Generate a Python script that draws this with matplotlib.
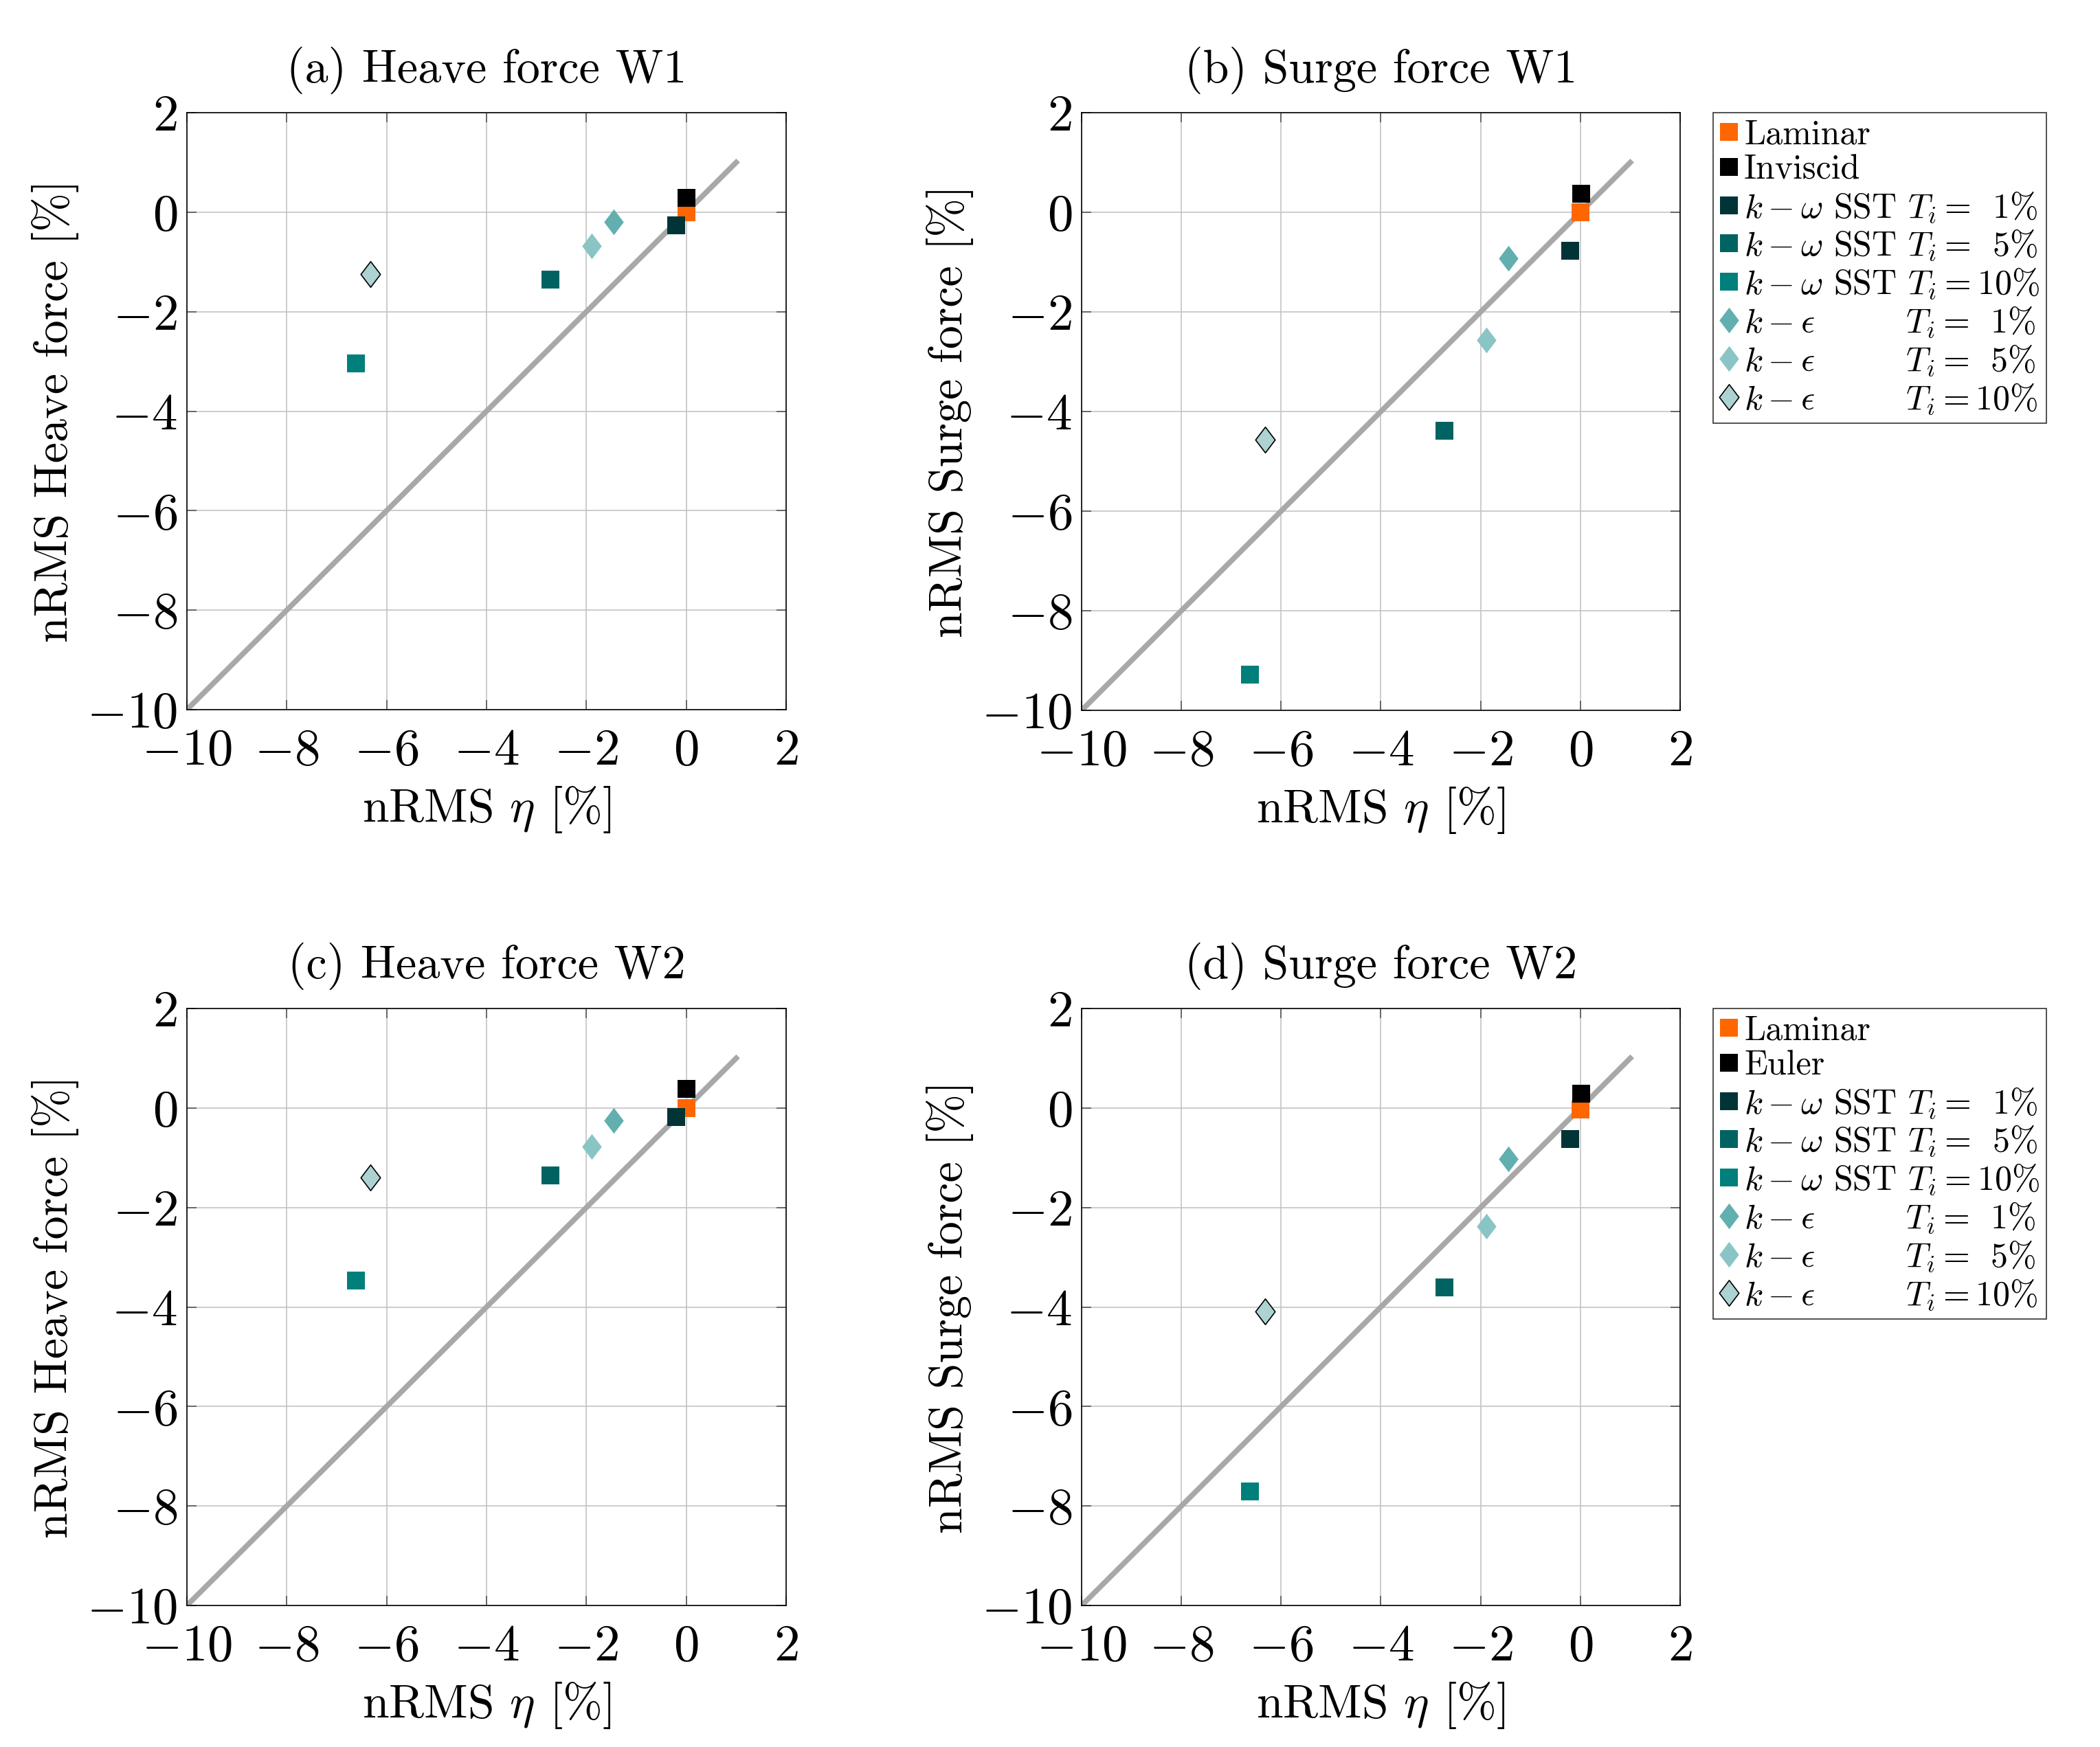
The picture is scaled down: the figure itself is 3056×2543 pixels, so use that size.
import numpy as np
import matplotlib
matplotlib.use('Agg')
import matplotlib.pyplot as plt
from matplotlib.path import Path

plt.rcParams['font.family'] = 'cmr10'
plt.rcParams['mathtext.fontset'] = 'cm'
plt.rcParams['axes.formatter.use_mathtext'] = True

# nRMS eta, same for every panel
# order: Laminar, Inviscid/Euler, kw 1%, kw 5%, kw 10%, ke 1%, ke 5%, ke 10%
eta = [0.0, 0.01, -0.2, -2.72, -6.62, -1.45, -1.89, -6.32]

heave_w1 = [0.0, 0.29, -0.26, -1.35, -3.04, -0.20, -0.68, -1.25]
surge_w1 = [0.0, 0.37, -0.77, -4.39, -9.28, -0.93, -2.56, -4.56]
heave_w2 = [0.0, 0.39, -0.18, -1.36, -3.47, -0.25, -0.77, -1.40]
surge_w2 = [-0.03, 0.29, -0.63, -3.60, -7.71, -1.02, -2.38, -4.09]

titles = ['(a) Heave force W1', '(b) Surge force W1',
          '(c) Heave force W2', '(d) Surge force W2']
ylabels = ['nRMS Heave force [%]', 'nRMS Surge force [%]',
           'nRMS Heave force [%]', 'nRMS Surge force [%]']

pad = r'\enspace'
labels_w1 = ['Laminar', 'Inviscid',
             r'$k-\omega$ SST $T_i=' + pad + r'1\%$',
             r'$k-\omega$ SST $T_i=' + pad + r'5\%$',
             r'$k-\omega$ SST $T_i=10\%$',
             r'$k-\epsilon$' + ' ' * 8 + r'$T_i=' + pad + r'1\%$',
             r'$k-\epsilon$' + ' ' * 8 + r'$T_i=' + pad + r'5\%$',
             r'$k-\epsilon$' + ' ' * 8 + r'$T_i=10\%$']
labels_w2 = ['Laminar', 'Euler'] + labels_w1[2:]

colors = ['#ff6600', '#000000', '#013436', '#006361', '#017f7b',
          '#62afb0', '#8ac5c5', '#add2d2']
edges = ['none'] * 7 + ['#000000']

diamond = Path([(0, 1), (0.76, 0), (0, -1), (-0.76, 0), (0, 1)],
               [Path.MOVETO, Path.LINETO, Path.LINETO, Path.LINETO, Path.CLOSEPOLY])
markers = ['s'] * 5 + [diamond] * 3
sizes = [9.5] * 5 + [13.5] * 3

W, H = 3056, 2543
fig = plt.figure(figsize=(W / 200, H / 200), dpi=200)

boxes = [(272, 164, 1144, 1033), (1574, 164, 2445, 1034),
         (272, 1468, 1144, 2337), (1574, 1468, 2445, 2337)]
data = [heave_w1, surge_w1, heave_w2, surge_w2]

for k in range(4):
    l, t, r, b = boxes[k]
    ax = fig.add_axes([l / W, 1 - b / H, (r - l) / W, (b - t) / H])
    ax.plot([-10, 1], [-10, 1], color='#a8a8a8', lw=2.8, zorder=2)
    handles = []
    for i in range(8):
        h, = ax.plot(eta[i], data[k][i], ls='none', marker=markers[i], ms=sizes[i],
                     mfc=colors[i], mec=edges[i] if edges[i] != 'none' else colors[i],
                     mew=0.6 if i == 7 else 0, zorder=3 + i)
        handles.append(h)
    ax.set_xlim(-10, 2)
    ax.set_ylim(-10, 2)
    ax.set_xticks(np.arange(-10, 3, 2))
    ax.set_yticks(np.arange(-10, 3, 2))
    ax.grid(True, color='#c4c4c4', lw=0.6)
    ax.set_axisbelow(True)
    ax.tick_params(direction='in', length=5, width=0.6, color='#555555',
                   top=True, right=True, labelsize=27)
    ax.tick_params(axis='x', pad=10)
    ax.tick_params(axis='y', pad=5)
    for s in ax.spines.values():
        s.set_linewidth(0.6)
    ax.set_title(titles[k], fontsize=24.5, pad=16)
    ax.set_xlabel(r'nRMS $\eta$ [%]', fontsize=25, labelpad=5)
    ax.set_ylabel(ylabels[k], fontsize=24.5, labelpad=4)
    if k == 1 or k == 3:
        labs = labels_w1 if k == 1 else labels_w2
        leg = fig.legend(handles, labs, loc='upper left',
                         bbox_to_anchor=(2493 / W, 1 - t / H), borderaxespad=0,
                         fontsize=18, frameon=True, fancybox=False,
                         edgecolor='#333333', framealpha=1,
                         handlelength=0.5, handletextpad=0.2, borderpad=0.2,
                         labelspacing=0.1)
        leg.get_frame().set_linewidth(0.6)

fig.savefig('out.png', dpi=200)
